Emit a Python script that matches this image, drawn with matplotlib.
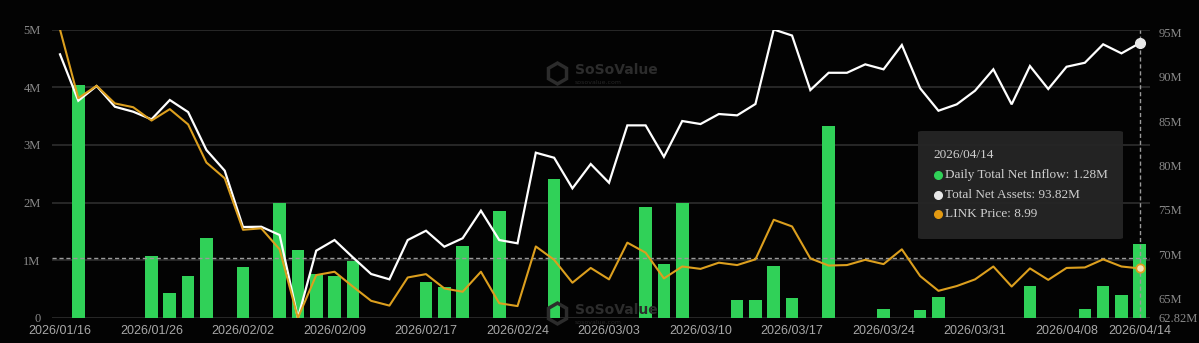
import matplotlib
matplotlib.use("Agg")
import matplotlib.pyplot as plt
from matplotlib.lines import Line2D
from matplotlib.patches import FancyBboxPatch
import numpy as np

dates = ["2026/01/16", "2026/01/20", "2026/01/21", "2026/01/22", "2026/01/23",
         "2026/01/26", "2026/01/27", "2026/01/28", "2026/01/29", "2026/01/30",
         "2026/02/02", "2026/02/03", "2026/02/04", "2026/02/05", "2026/02/06",
         "2026/02/09", "2026/02/10", "2026/02/11", "2026/02/12", "2026/02/13",
         "2026/02/17", "2026/02/18", "2026/02/19", "2026/02/20", "2026/02/23",
         "2026/02/24", "2026/02/25", "2026/02/26", "2026/02/27", "2026/03/02",
         "2026/03/03", "2026/03/04", "2026/03/05", "2026/03/06", "2026/03/09",
         "2026/03/10", "2026/03/11", "2026/03/12", "2026/03/13", "2026/03/16",
         "2026/03/17", "2026/03/18", "2026/03/19", "2026/03/20", "2026/03/23",
         "2026/03/24", "2026/03/25", "2026/03/26", "2026/03/27", "2026/03/30",
         "2026/03/31", "2026/04/01", "2026/04/02", "2026/04/06", "2026/04/07",
         "2026/04/08", "2026/04/09", "2026/04/10", "2026/04/13", "2026/04/14"]

# Daily total net inflow (M USD)
inflow = [0, 4.04, 0, 0, 0, 1.07, 0.43, 0.73, 1.39, 0,
          0.88, 0, 2.00, 1.17, 0.77, 0.72, 0.98, 0, 0, 0,
          0.62, 0.53, 1.24, 0, 1.85, 0, 0, 2.41, 0, 0,
          0, 0, 1.92, 0.93, 2.00, 0, 0, 0.32, 0.31, 0.90,
          0.35, 0, 3.33, 0, 0, 0.16, 0, 0.14, 0.37, 0,
          0, 0, 0, 0.55, 0, 0, 0.16, 0.56, 0.39, 1.28]

# Total net assets (M USD)
assets = [92.55, 87.32, 88.98, 86.64, 86.08, 85.22, 87.40, 86.04, 81.76, 79.43,
          73.08, 73.11, 72.18, 62.82, 70.41, 71.61, 69.66, 67.78, 67.18, 71.61,
          72.66, 70.86, 71.81, 74.92, 71.61, 71.24, 81.46, 80.89, 77.44, 80.18,
          78.07, 84.54, 84.54, 81.00, 85.03, 84.69, 85.82, 85.67, 86.95, 95.35,
          94.67, 88.52, 90.47, 90.47, 91.42, 90.86, 93.60, 88.72, 86.19, 86.91,
          88.45, 90.86, 86.91, 91.23, 88.64, 91.15, 91.60, 93.68, 92.66, 93.82]

# LINK price (USD)
price = [14.00, 12.56, 12.82, 12.45, 12.37, 12.09, 12.33, 12.01, 11.21, 10.88,
         9.80, 9.83, 9.39, 7.95, 8.85, 8.92, 8.61, 8.31, 8.21, 8.80,
         8.87, 8.57, 8.50, 8.92, 8.26, 8.20, 9.45, 9.17, 8.69, 9.00,
         8.76, 9.53, 9.32, 8.78, 9.03, 8.98, 9.11, 9.06, 9.18, 10.01,
         9.87, 9.20, 9.05, 9.06, 9.17, 9.08, 9.39, 8.83, 8.52, 8.62,
         8.76, 9.03, 8.61, 8.99, 8.75, 9.00, 9.01, 9.18, 9.03, 8.99]

left_ticks = [0, 1, 2, 3, 4, 5]
left_labels = ["0", "1M", "2M", "3M", "4M", "5M"]
right_ticks = [62.82, 65, 70, 75, 80, 85, 90, 95]
right_labels = ["62.82M", "65M", "70M", "75M", "80M", "85M", "90M", "95M"]
xtick_idx = [0, 5, 10, 15, 20, 25, 30, 35, 40, 45, 50, 55, 59]

GREEN = "#30d158"
ORANGE = "#dc9f1e"
GRID = "#2e2e2e"
BG = "#030303"
WM = "#2c2c2c"

W, H = 1199, 343
fig = plt.figure(figsize=(W / 100, H / 100), dpi=100, facecolor=BG)
L, R, T, B = 51.7, 1150, 29.5, 318
ax = fig.add_axes([L / W, 1 - B / H, (R - L) / W, (B - T) / H])
ax.set_facecolor(BG)
x = np.arange(len(dates))

ax.set_xlim(-0.454, 59.56)
ax.set_ylim(0, 5)
ax.set_yticks(left_ticks)
ax.set_yticklabels(left_labels, family="Liberation Serif", fontsize=9, color="#8a8a8a")
ax.yaxis.grid(True, color=GRID, lw=1.2)
ax.set_axisbelow(True)
ax.tick_params(axis="y", length=0, pad=8)
ax.set_xticks([x[i] for i in xtick_idx])
ax.set_xticklabels([dates[i] for i in xtick_idx], family="Liberation Sans", fontsize=9, color="#a8a8a8")
ax.tick_params(axis="x", length=0, pad=5)
for s in ax.spines.values():
    s.set_visible(False)

vals = np.array(inflow)
mask = vals > 0
ax.bar(x[mask], vals[mask], width=0.69, color=GREEN, zorder=2)

# crosshair
ax.axhline(1.045, color="#9a9a9a", lw=1, ls=(0, (3, 2)), zorder=3)
ax.axvline(x[-1], color="#9a9a9a", lw=1, ls=(0, (3, 2)), zorder=3)

ax2 = ax.twinx()
ax2.set_ylim(62.82, 95.35)
ax2.set_yticks(right_ticks)
ax2.set_yticklabels(right_labels, family="Liberation Serif", fontsize=9, color="#8a8a8a")
ax2.tick_params(axis="y", length=0, pad=6)
for s in ax2.spines.values():
    s.set_visible(False)
ax2.plot(x, assets, color="white", lw=1.6, zorder=4, solid_joinstyle="miter")
ax2.plot([x[-1]], [assets[-1]], "o", ms=7, color="#e8e8e8", zorder=6)

ax3 = ax.twinx()
ax3.set_ylim(7.95, 14.0)
ax3.set_yticks([])
for s in ax3.spines.values():
    s.set_visible(False)
ax3.plot(x, price, color=ORANGE, lw=1.5, zorder=5)
ax3.plot([x[-1]], [price[-1]], "o", ms=6, mfc="#f3e3b8", mec=ORANGE, mew=1.3, zorder=6)

# watermarks
for (lx, ly, tx) in [(557, 73, 575), (557, 313, 575)]:
    fig.add_artist(Line2D([lx / W], [1 - ly / H], marker="h", ms=15, mfc="none",
                          mec=WM, mew=2.5, transform=fig.transFigure, zorder=10))
    fig.text(tx / W, 1 - (ly - 3) / H, "SoSoValue", family="DejaVu Sans", fontweight="bold",
             fontsize=10, color=WM, va="center", ha="left", zorder=10)
    fig.text(tx / W, 1 - (ly + 9) / H, "sosovalue.com", family="DejaVu Sans",
             fontsize=4.5, color="#262626", va="center", ha="left", zorder=10)

# tooltip
tx0, ty0, tx1, ty1 = 918, 131, 1123, 239
box = FancyBboxPatch((tx0 / W, 1 - ty1 / H), (tx1 - tx0) / W, (ty1 - ty0) / H,
                     boxstyle="round,pad=0,rounding_size=0.004", transform=fig.transFigure,
                     facecolor="#252525", edgecolor="none", alpha=0.97, zorder=20)
fig.add_artist(box)
fig.text(933 / W, 1 - 155.5 / H, dates[-1], family="Liberation Serif", fontsize=9.5,
         color="#cfcfcf", va="center", ha="left", zorder=21)
rows = [(GREEN, "Daily Total Net Inflow: 1.28M", 175),
        ("#e8e8e8", "Total Net Assets: 93.82M", 194.5),
        ("#e39a12", "LINK Price: 8.99", 214)]
for col, txt, yy in rows:
    fig.add_artist(Line2D([937.5 / W], [1 - yy / H], marker="o", ms=5.5, color=col,
                          mec=col, transform=fig.transFigure, zorder=21))
    fig.text(945 / W, 1 - yy / H, txt, family="Liberation Serif", fontsize=9.5,
             color="#cfcfcf", va="center", ha="left", zorder=21)

fig.savefig("out.png", dpi=100, facecolor=BG)
